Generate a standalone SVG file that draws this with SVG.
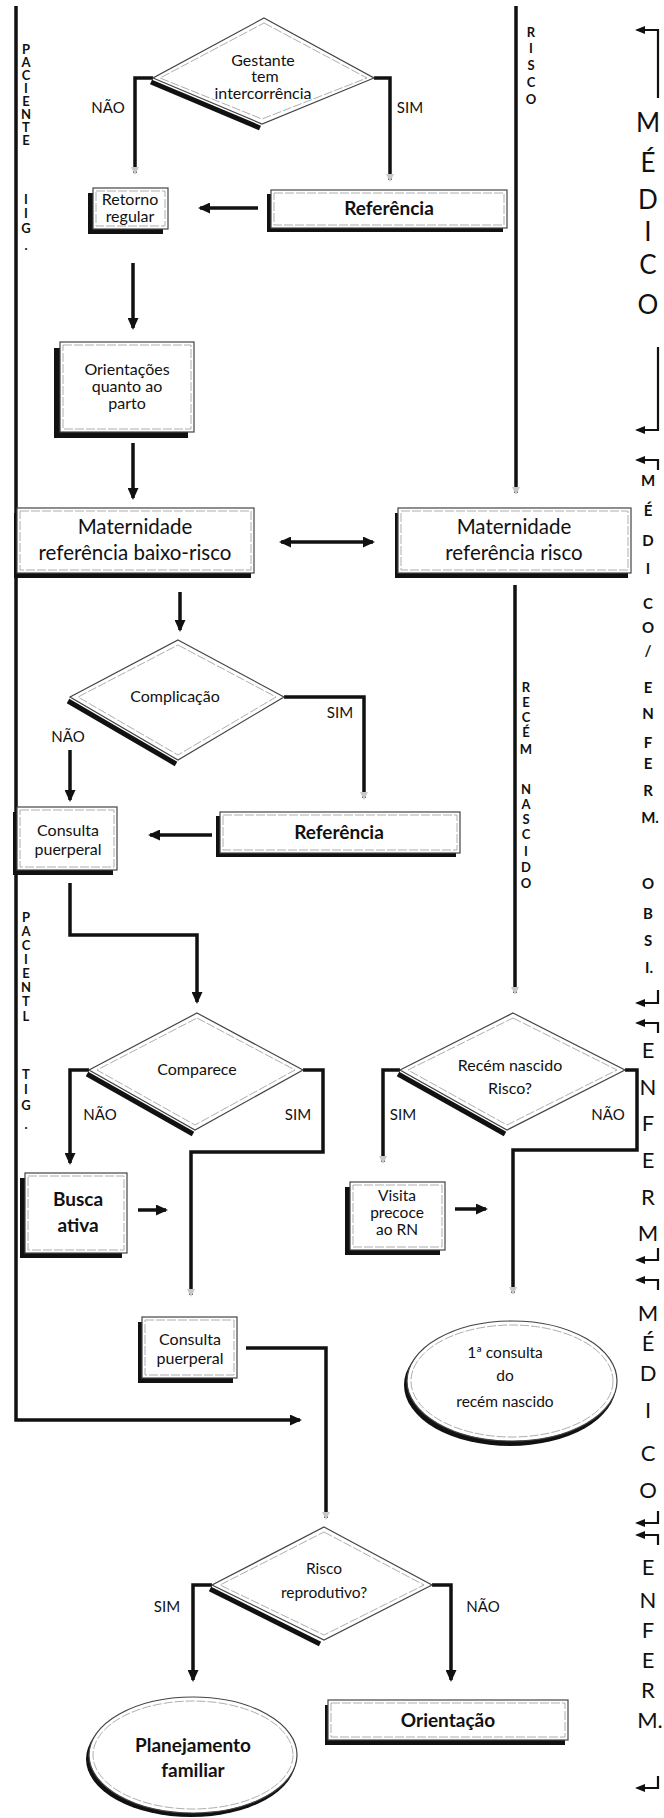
<svg xmlns="http://www.w3.org/2000/svg" width="664" height="1818" viewBox="0 0 664 1818">
<style>
.ln{fill:none;stroke:#111;stroke-width:3.5}
.br{fill:none;stroke:#111;stroke-width:2.2}
.box{fill:#fff;stroke:#444;stroke-width:1.2}
.inner{fill:none;stroke:#999;stroke-width:0.8;stroke-dasharray:9 2}
.sh{fill:#111}
.dsh{fill:none;stroke:#111;stroke-width:5}
.t{font-family:Lato,"Liberation Sans",sans-serif;fill:#111;text-anchor:middle}
.n13{font-size:15.5px}
.n14{font-size:16px}
.b17{font-size:19px;font-weight:bold}
.m18{font-size:20.5px}
.lab{font-size:15px}
.vl{font-size:13px;font-weight:bold}
.big{font-size:26px}
.sm{font-size:15px;font-weight:bold}
.mid{font-size:22px}
</style>
<defs>
<marker id="ah" markerUnits="userSpaceOnUse" markerWidth="12" markerHeight="11" refX="10" refY="5.5" orient="auto-start-reverse"><path d="M0,0 L12,5.5 L0,11 z" fill="#111"/></marker>
<marker id="af" markerUnits="userSpaceOnUse" markerWidth="8" markerHeight="8" refX="6" refY="4" orient="auto"><path d="M0,0 L8,4 L0,8 z" fill="#c8c8c8"/></marker>
<marker id="as" markerUnits="userSpaceOnUse" markerWidth="10" markerHeight="8" refX="8" refY="4" orient="auto"><path d="M0,0 L10,4 L0,8 z" fill="#111"/></marker>
</defs>

<g id="connectors">
<path class="ln" d="M16,6 V1420 H300" marker-end="url(#ah)"/>
<path class="ln" d="M516,6 V493" marker-end="url(#af)"/>
<path class="ln" d="M153,78 H135 V173" marker-end="url(#af)"/>
<path class="ln" d="M374,78 H390 V180" marker-end="url(#af)"/>
<path class="ln" d="M258,208 H200" marker-end="url(#ah)"/>
<path class="ln" d="M133,263 V328" marker-end="url(#ah)"/>
<path class="ln" d="M133,443 V498" marker-end="url(#ah)"/>
<path class="ln" d="M281,542 H373" marker-start="url(#ah)" marker-end="url(#ah)"/>
<path class="ln" d="M180,592 V630" marker-end="url(#ah)"/>
<path class="ln" d="M284,697 H364 V798" marker-end="url(#af)"/>
<path class="ln" d="M70,750 V800" marker-end="url(#ah)"/>
<path class="ln" d="M212,835 H150" marker-end="url(#ah)"/>
<path class="ln" d="M515,585 V993" marker-end="url(#af)"/>
<path class="ln" d="M70,883 V935 H197 V1002" marker-end="url(#ah)"/>
<path class="ln" d="M89,1070 H70 V1163" marker-end="url(#ah)"/>
<path class="ln" d="M303,1070 H323 V1152 H191 V1295" marker-end="url(#af)"/>
<path class="ln" d="M400,1070 H383 V1162" marker-end="url(#af)"/>
<path class="ln" d="M625,1070 H637 V1150 H513 V1293" marker-end="url(#af)"/>
<path class="ln" d="M138,1210 H166" marker-end="url(#ah)"/>
<path class="ln" d="M455,1209 H486" marker-end="url(#ah)"/>
<path class="ln" d="M246,1348 H326 V1518" marker-end="url(#af)"/>
<path class="ln" d="M212,1585 H193 V1680" marker-end="url(#ah)"/>
<path class="ln" d="M432,1585 H451 V1680" marker-end="url(#ah)"/>
</g>

<g id="side-labels">
<text class="t vl" x="26" y="54"><tspan x="26">P</tspan><tspan x="26" dy="13">A</tspan><tspan x="26" dy="13">C</tspan><tspan x="26" dy="13">I</tspan><tspan x="26" dy="13">E</tspan><tspan x="26" dy="13">N</tspan><tspan x="26" dy="13">T</tspan><tspan x="26" dy="13">E</tspan></text>
<text class="t vl" x="26" y="204"><tspan x="26">I</tspan><tspan x="26" dy="14">I</tspan><tspan x="26" dy="15">G</tspan><tspan x="26" dy="17">.</tspan></text>
<text class="t vl" x="26" y="922"><tspan x="26">P</tspan><tspan x="26" dy="14">A</tspan><tspan x="26" dy="14">C</tspan><tspan x="26" dy="14">I</tspan><tspan x="26" dy="14">E</tspan><tspan x="26" dy="14">N</tspan><tspan x="26" dy="14">T</tspan><tspan x="26" dy="15">L</tspan></text>
<text class="t vl" x="26" y="1079"><tspan x="26">T</tspan><tspan x="26" dy="15">I</tspan><tspan x="26" dy="16">G</tspan><tspan x="26" dy="19">.</tspan></text>
<text class="t vl" x="531" y="37"><tspan x="531">R</tspan><tspan x="531" dy="16">I</tspan><tspan x="531" dy="17">S</tspan><tspan x="531" dy="17">C</tspan><tspan x="531" dy="17">O</tspan></text>
<text class="t vl" x="526" y="692"><tspan x="526">R</tspan><tspan x="526" dy="15">E</tspan><tspan x="526" dy="15">C</tspan><tspan x="526" dy="15">É</tspan><tspan x="526" dy="17">M</tspan><tspan x="526" dy="40">N</tspan><tspan x="526" dy="15">A</tspan><tspan x="526" dy="15">S</tspan><tspan x="526" dy="15">C</tspan><tspan x="526" dy="17">I</tspan><tspan x="526" dy="16">D</tspan><tspan x="526" dy="16">O</tspan></text>
</g>

<g id="roles">
<path class="br" d="M658,98 V30 H637" marker-end="url(#as)"/>
<path class="br" d="M658,347 V430 H637" marker-end="url(#as)"/>
<path class="br" d="M658,470 V460 H637" marker-end="url(#as)"/>
<path class="br" d="M658,990 V1003 H637" marker-end="url(#as)"/>
<path class="br" d="M658,1033 V1023 H637" marker-end="url(#as)"/>
<path class="br" d="M658,1248 V1260 H637" marker-end="url(#as)"/>
<path class="br" d="M658,1290 V1280 H637" marker-end="url(#as)"/>
<path class="br" d="M658,1511 V1523 H637" marker-end="url(#as)"/>
<path class="br" d="M658,1545 V1535 H637" marker-end="url(#as)"/>
<path class="br" d="M658,1776 V1788 H637" marker-end="url(#as)"/>
<text class="t big" x="648" y="132"><tspan x="648">M</tspan><tspan x="648" dy="40">É</tspan><tspan x="648" dy="37">D</tspan><tspan x="648" dy="32">I</tspan><tspan x="648" dy="33">C</tspan><tspan x="648" dy="40">O</tspan></text>
<text class="t sm" x="648" y="486"><tspan x="648">M</tspan><tspan x="648" dy="30">É</tspan><tspan x="648" dy="30">D</tspan><tspan x="648" dy="28">I</tspan><tspan x="648" dy="35">C</tspan><tspan x="648" dy="24">O</tspan><tspan x="648" dy="23">/</tspan><tspan x="648" dy="37">E</tspan><tspan x="648" dy="26">N</tspan><tspan x="648" dy="29">F</tspan><tspan x="648" dy="21">E</tspan><tspan x="648" dy="27">R</tspan><tspan x="650" dy="27">M.</tspan><tspan x="648" dy="66">O</tspan><tspan x="648" dy="30">B</tspan><tspan x="648" dy="27">S</tspan><tspan x="649" dy="27">I.</tspan></text>
<text class="t mid" x="648" y="1058"><tspan x="648">E</tspan><tspan x="648" dy="37">N</tspan><tspan x="648" dy="36">F</tspan><tspan x="648" dy="37">E</tspan><tspan x="648" dy="37">R</tspan><tspan x="648" dy="36">M</tspan></text>
<text class="t mid" x="648" y="1321"><tspan x="648">M</tspan><tspan x="648" dy="30">É</tspan><tspan x="648" dy="30">D</tspan><tspan x="648" dy="37">I</tspan><tspan x="648" dy="43">C</tspan><tspan x="648" dy="37">O</tspan></text>
<text class="t mid" x="648" y="1575"><tspan x="648">E</tspan><tspan x="648" dy="33">N</tspan><tspan x="648" dy="30">F</tspan><tspan x="648" dy="30">E</tspan><tspan x="648" dy="30">R</tspan><tspan x="650" dy="30">M.</tspan></text>
</g>

<g id="n-gestante">
<path class="dsh" d="M151,82 L260,128"/>
<polygon class="box" points="264,18 374,78 262,124 153,78"/>
<polygon class="inner" points="264,23 367,78 262,119 160,78"/>
<text class="t n14" x="263" y="66">Gestante</text>
<text class="t n14" x="265" y="82">tem</text>
<text class="t n14" x="263" y="99">intercorrência</text>
<text class="t lab" x="108" y="113">NÃO</text>
<text class="t lab" x="410" y="113">SIM</text>
</g>

<g id="n-retorno">
<rect class="sh" x="88" y="193" width="75" height="41"/>
<rect class="box" x="93" y="188" width="75" height="41"/>
<rect class="inner" x="96" y="191" width="69" height="35"/>
<text class="t n14" x="130" y="205">Retorno</text>
<text class="t n14" x="130" y="222">regular</text>
</g>

<g id="n-referencia1">
<rect class="sh" x="267" y="194" width="236" height="38"/>
<rect class="box" x="271" y="190" width="236" height="38"/>
<rect class="inner" x="274" y="193" width="230" height="32"/>
<text class="t b17" x="389" y="215">Referência</text>
</g>

<g id="n-orientacoes">
<rect class="sh" x="54" y="348" width="134" height="90"/>
<rect class="box" x="60" y="342" width="134" height="90"/>
<rect class="inner" x="63" y="345" width="128" height="84"/>
<text class="t n14" x="127" y="375">Orientações</text>
<text class="t n14" x="127" y="392">quanto ao</text>
<text class="t n14" x="127" y="409">parto</text>
</g>

<g id="n-mat-baixo">
<rect class="sh" x="14" y="513" width="237" height="65"/>
<rect class="box" x="17" y="508" width="237" height="65"/>
<rect class="inner" x="20" y="511" width="231" height="59"/>
<text class="t m18" x="135" y="534">Maternidade</text>
<text class="t m18" x="135" y="560">referência baixo-risco</text>
</g>

<g id="n-mat-risco">
<rect class="sh" x="395" y="513" width="233" height="65"/>
<rect class="box" x="398" y="508" width="233" height="65"/>
<rect class="inner" x="401" y="511" width="227" height="59"/>
<text class="t m18" x="514" y="534">Maternidade</text>
<text class="t m18" x="514" y="560">referência risco</text>
</g>

<g id="n-complicacao">
<path class="dsh" d="M68,701 L176,764"/>
<polygon class="box" points="178,640 284,697 178,760 70,697"/>
<polygon class="inner" points="178,645 276,697 178,755 78,697"/>
<text class="t n14" x="175" y="702">Complicação</text>
<text class="t lab" x="340" y="718">SIM</text>
<text class="t lab" x="68" y="742">NÃO</text>
</g>

<g id="n-consulta1">
<rect class="sh" x="13" y="812" width="100" height="63"/>
<rect class="box" x="17" y="807" width="100" height="63"/>
<rect class="inner" x="20" y="810" width="94" height="57"/>
<text class="t n14" x="68" y="836">Consulta</text>
<text class="t n14" x="68" y="855">puerperal</text>
</g>

<g id="n-referencia2">
<rect class="sh" x="216" y="816" width="240" height="41"/>
<rect class="box" x="220" y="812" width="240" height="41"/>
<rect class="inner" x="223" y="815" width="234" height="35"/>
<text class="t b17" x="339" y="839">Referência</text>
</g>

<g id="n-comparece">
<path class="dsh" d="M87,1074 L193,1134"/>
<polygon class="box" points="197,1013 303,1070 195,1130 89,1070"/>
<polygon class="inner" points="197,1018 295,1070 195,1125 97,1070"/>
<text class="t n14" x="197" y="1075">Comparece</text>
<text class="t lab" x="100" y="1120">NÃO</text>
<text class="t lab" x="298" y="1120">SIM</text>
</g>

<g id="n-recem">
<path class="dsh" d="M398,1074 L505,1134"/>
<polygon class="box" points="513,1013 625,1070 507,1130 400,1070"/>
<polygon class="inner" points="513,1018 617,1070 507,1125 408,1070"/>
<text class="t n14" x="510" y="1071">Recém nascido</text>
<text class="t n14" x="510" y="1094">Risco?</text>
<text class="t lab" x="403" y="1120">SIM</text>
<text class="t lab" x="608" y="1120">NÃO</text>
</g>

<g id="n-busca">
<rect class="sh" x="20" y="1178" width="102" height="80"/>
<rect class="box" x="25" y="1173" width="102" height="80"/>
<rect class="inner" x="28" y="1176" width="96" height="74"/>
<text class="t b17" x="78" y="1206">Busca</text>
<text class="t b17" x="78" y="1232">ativa</text>
</g>

<g id="n-visita">
<rect class="sh" x="345" y="1187" width="95" height="68"/>
<rect class="box" x="350" y="1182" width="95" height="68"/>
<rect class="inner" x="353" y="1185" width="89" height="62"/>
<text class="t n13" x="397" y="1201">Visita</text>
<text class="t n13" x="397" y="1218">precoce</text>
<text class="t n13" x="397" y="1235">ao RN</text>
</g>

<g id="n-consulta2">
<rect class="sh" x="138" y="1322" width="95" height="61"/>
<rect class="box" x="142" y="1317" width="95" height="61"/>
<rect class="inner" x="145" y="1320" width="89" height="55"/>
<text class="t n14" x="190" y="1345">Consulta</text>
<text class="t n14" x="190" y="1364">puerperal</text>
</g>

<g id="n-primeira-consulta">
<ellipse class="sh" cx="510" cy="1385" rx="106" ry="61"/>
<ellipse class="box" cx="512" cy="1381" rx="105" ry="60"/>
<ellipse class="inner" cx="512" cy="1381" rx="101" ry="56"/>
<text class="t n13" x="505" y="1358">1ª consulta</text>
<text class="t n13" x="505" y="1381">do</text>
<text class="t n13" x="505" y="1407">recém nascido</text>
</g>

<g id="n-risco-reprodutivo">
<path class="dsh" d="M210,1589 L320,1644"/>
<polygon class="box" points="324,1527 432,1585 324,1640 212,1585"/>
<polygon class="inner" points="324,1532 424,1585 324,1635 220,1585"/>
<text class="t n13" x="324" y="1574">Risco</text>
<text class="t n13" x="324" y="1598">reprodutivo?</text>
<text class="t lab" x="167" y="1612">SIM</text>
<text class="t lab" x="483" y="1612">NÃO</text>
</g>

<g id="n-planejamento">
<ellipse class="sh" cx="191" cy="1759" rx="105" ry="58"/>
<ellipse class="box" cx="193" cy="1755" rx="104" ry="58"/>
<ellipse class="inner" cx="193" cy="1755" rx="100" ry="54"/>
<text class="t b17" x="193" y="1752">Planejamento</text>
<text class="t b17" x="193" y="1777">familiar</text>
</g>

<g id="n-orientacao">
<rect class="sh" x="325" y="1705" width="240" height="40"/>
<rect class="box" x="328" y="1700" width="240" height="40"/>
<rect class="inner" x="331" y="1703" width="234" height="34"/>
<text class="t b17" x="448" y="1727">Orientação</text>
</g>
</svg>
